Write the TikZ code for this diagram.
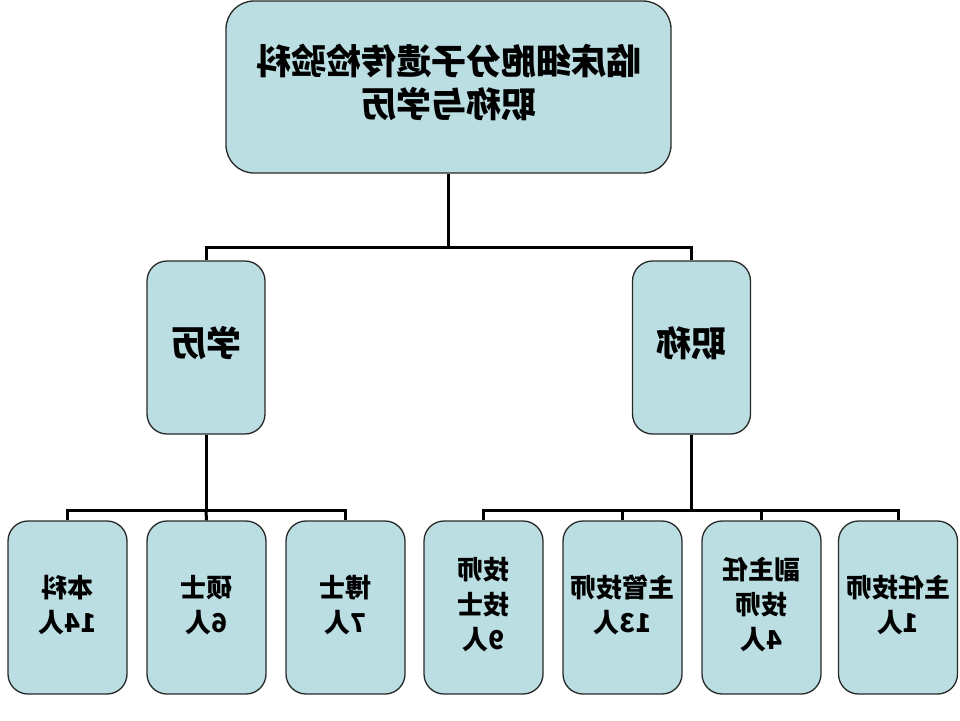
\documentclass[tikz,border=0pt]{standalone}
\usepackage{fontspec}
\usepackage{graphicx}
\newfontfamily\cjk{Noto Sans CJK SC}
\definecolor{boxfill}{RGB}{187,222,226}
\definecolor{boxline}{RGB}{40,40,40}
\newcommand{\mirtxt}[1]{\reflectbox{\begin{tabular}{@{}c@{}}#1\end{tabular}}}
\tikzset{
  orgbox/.style={draw=boxline, line width=1.3pt, fill=boxfill, rounded corners=20pt,
    minimum width=119pt, minimum height=173pt, inner sep=0pt},
  leafbox/.style={orgbox, font=\cjk\bfseries\fontsize{26}{35}\selectfont},
  link/.style={line width=3pt, black}
}
\begin{document}
\begin{tikzpicture}[x=1pt, y=-1pt]
\useasboundingbox (0,0) rectangle (960,720);
% top and second level
\node[orgbox, minimum width=445pt, minimum height=172pt, rounded corners=28pt,
  font=\cjk\bfseries\fontsize{35}{41}\selectfont] (dept) at (448.5,87)
  {\mirtxt{临床细胞分子遗传检验科\\职称与学历}};
\node[orgbox, minimum width=118pt, font=\cjk\bfseries\fontsize{35}{40}\selectfont] (edu) at (206,347.5) {\mirtxt{学历}};
\node[orgbox, minimum width=118pt, font=\cjk\bfseries\fontsize{35}{40}\selectfont] (title) at (691.5,347.5) {\mirtxt{职称}};
% leaves
\node[leafbox] (bk) at (67.5,607.5) {\mirtxt{本科\\14人}};
\node[leafbox] (ss) at (206.5,607.5) {\mirtxt{硕士\\6人}};
\node[leafbox] (bs) at (345.5,607.5) {\mirtxt{博士\\7人}};
\node[leafbox] (js) at (483.5,607.5) {\mirtxt{技师\\技士\\9人}};
\node[leafbox] (zg) at (622.5,607.5) {\mirtxt{主管技师\\13人}};
\node[leafbox] (fz) at (761.5,607.5) {\mirtxt{副主任\\技师\\4人}};
\node[leafbox] (zr) at (898,607.5) {\mirtxt{主任技师\\1人}};
% connectors
\draw[link] (dept.south) -- ++(0,74) coordinate (j0);
\draw[link] (j0) -| (edu.north);
\draw[link] (j0) -| (title.north);
\draw[link] (edu.south) -- ++(0,76) coordinate (j1);
\draw[link] (j1) -| (bk.north);
\draw[link] (j1) -- (ss.north);
\draw[link] (j1) -| (bs.north);
\draw[link] (title.south) -- ++(0,76) coordinate (j2);
\draw[link] (j2) -| (js.north);
\draw[link] (j2) -| (zg.north);
\draw[link] (j2) -| (fz.north);
\draw[link] (j2) -| (zr.north);
\end{tikzpicture}
\end{document}
